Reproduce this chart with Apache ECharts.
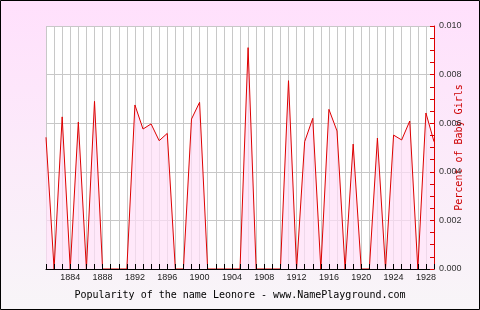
<!DOCTYPE html>
<html><head><meta charset="utf-8">
<script src="https://cdn.jsdelivr.net/npm/echarts@6/dist/echarts.min.js"></script>
<style>html,body{margin:0;padding:0;}#c{width:480px;height:310px;}</style>
</head><body><div id="c"></div>
<script>
var years = [];
for (var y = 1881; y <= 1929; y++) years.push(String(y));
var values = [
  0.00542, 0, 0.00626, 0, 0.00605, 0, 0.00690, 0, 0, 0,
  0, 0.00675, 0.00576, 0.00597, 0.00528, 0.00558, 0, 0, 0.00617, 0.00686,
  0, 0, 0, 0, 0, 0.00911, 0, 0, 0, 0,
  0.00775, 0, 0.00524, 0.00620, 0, 0.00657, 0.00568, 0, 0.00514, 0,
  0, 0.00539, 0, 0.00551, 0.00531, 0.00609, 0, 0.00642, 0.00524
];
var titleText = 'Popularity of the name Leonore - www.NamePlayground.com';
var yName = 'Percent of Baby Girls';

var chart = echarts.init(document.getElementById('c'), null, {renderer: 'canvas'});
chart.setOption({
  animation: false,
  backgroundColor: {type: 'linear', x: 0, y: 0, x2: 0, y2: 1,
    colorStops: [{offset: 0, color: '#ffe0fc'}, {offset: 1, color: '#f8f5f8'}]},
  title: {text: titleText, left: 'center', top: 285,
    textStyle: {fontFamily: 'DejaVu Sans Mono', fontSize: 10, fontWeight: 'normal', color: '#000'}},
  grid: {left: 46, right: 46, top: 26, bottom: 41, show: true, backgroundColor: '#ffffff', borderWidth: 0,
    containLabel: false, outerBoundsMode: 'none'},
  xAxis: [{
    type: 'category', data: years, boundaryGap: false, z: 0,
    axisLine: {show: false},
    axisTick: {show: false},
    axisLabel: {interval: function (i, v) { return (+v) % 4 === 0; },
      fontFamily: 'Liberation Sans', fontSize: 9, color: '#222', margin: 4},
    splitLine: {show: true, interval: 0, lineStyle: {color: '#c8c8c8', width: 1}}
  }, {
    type: 'category', data: years, boundaryGap: false, z: 5, position: 'bottom',
    axisLine: {show: true, onZero: false, lineStyle: {color: '#000', width: 1}},
    axisTick: {show: true, inside: true, length: 5, interval: 0, lineStyle: {color: '#000'}},
    axisLabel: {show: false},
    splitLine: {show: false}
  }],
  yAxis: [{
    type: 'value', position: 'right', min: 0, max: 0.01, interval: 0.002, z: 0,
    axisLine: {show: false}, axisTick: {show: false}, axisLabel: {show: false},
    splitLine: {show: true, lineStyle: {color: '#c8c8c8', width: 1}}
  }, {
    type: 'value', position: 'right', min: 0, max: 0.01, interval: 0.002, z: 5,
    name: yName, nameLocation: 'middle', nameRotate: 90, nameGap: 20, nameMoveOverlap: false,
    nameTextStyle: {fontFamily: 'DejaVu Sans Mono', fontSize: 10, color: '#cc0000'},
    axisLine: {show: true, lineStyle: {color: '#dd0000', width: 1}},
    axisTick: {show: true, inside: true, length: 4, lineStyle: {color: '#dd0000'}},
    minorTick: {show: true, splitNumber: 4, length: 4, lineStyle: {color: '#dd0000'}},
    axisLabel: {formatter: function (v) { return v.toFixed(3); }, fontFamily: 'Liberation Sans',
      fontSize: 9, color: '#333', margin: 5},
    splitLine: {show: false}
  }],
  series: [{
    type: 'line', data: values, symbol: 'none', z: 2, xAxisIndex: 0, yAxisIndex: 1,
    lineStyle: {color: '#dd0000', width: 1},
    areaStyle: {color: 'rgb(255,222,248)', opacity: 0.7}
  }],
  graphic: [{type: 'rect', shape: {x: 0.5, y: 0.5, width: 479, height: 309},
    style: {fill: null, stroke: '#000', lineWidth: 1}, silent: true, z: 100}]
});
</script></body></html>
